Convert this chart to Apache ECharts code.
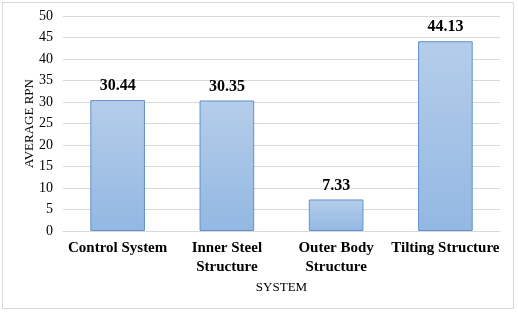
<!DOCTYPE html>
<html>
<head>
<meta charset="utf-8">
<script src="https://cdn.jsdelivr.net/npm/echarts@6/dist/echarts.min.js"></script>
<style>
html,body{margin:0;padding:0;background:#fff;}
#frame{position:absolute;left:2px;top:2px;width:512px;height:307px;border:1px solid #d9d9d9;box-sizing:border-box;}
#chart{position:absolute;left:0;top:0;width:518px;height:313px;}
</style>
</head>
<body>
<div id="frame"></div>
<div id="chart"></div>
<script>
const categories = ['Control System', 'Inner Steel\nStructure', 'Outer Body\nStructure', 'Tilting Structure'];
const values = [30.44, 30.35, 7.33, 44.13];
const yTicks = [0, 5, 10, 15, 20, 25, 30, 35, 40, 45, 50];
const yAxisName = 'AVERAGE RPN';
const xAxisName = 'SYSTEM';

const serif = '"Liberation Serif", "Times New Roman", serif';
const chart = echarts.init(document.getElementById('chart'), null, {renderer: 'canvas'});
chart.setOption({
  animation: false,
  grid: {left: 63, right: 18, top: 16, bottom: 82},
  xAxis: {
    type: 'category',
    data: categories,
    name: xAxisName,
    nameLocation: 'middle',
    nameGap: 50,
    nameMoveOverlap: false,
    nameTextStyle: {fontFamily: serif, fontSize: 13, color: '#000'},
    axisLine: {show: true, lineStyle: {color: '#d9d9d9', width: 1}},
    axisTick: {show: false},
    axisLabel: {fontFamily: serif, fontSize: 15, fontWeight: 'bold', color: '#000', margin: 8, lineHeight: 19, interval: 0}
  },
  yAxis: {
    type: 'value',
    min: yTicks[0],
    max: yTicks[yTicks.length - 1],
    interval: yTicks[1] - yTicks[0],
    name: yAxisName,
    nameLocation: 'middle',
    nameGap: 27,
    nameMoveOverlap: false,
    nameTextStyle: {fontFamily: serif, fontSize: 13, color: '#000'},
    axisLine: {show: false},
    axisTick: {show: false},
    axisLabel: {fontFamily: serif, fontSize: 14, color: '#000', margin: 10},
    splitLine: {lineStyle: {color: '#d9d9d9', width: 1}}
  },
  series: [{
    type: 'bar',
    data: values,
    barWidth: '50%',
    itemStyle: {
      color: new echarts.graphic.LinearGradient(0, 0, 0, 1, [
        {offset: 0, color: '#b5cdea'},
        {offset: 1, color: '#93b8e2'}
      ]),
      borderColor: '#5f92cf',
      borderWidth: 1
    },
    label: {
      show: true,
      position: 'top',
      distance: 6,
      fontFamily: serif,
      fontSize: 16,
      fontWeight: 'bold',
      color: '#000',
      formatter: p => p.value.toFixed(2)
    }
  }]
});
</script>
</body>
</html>
